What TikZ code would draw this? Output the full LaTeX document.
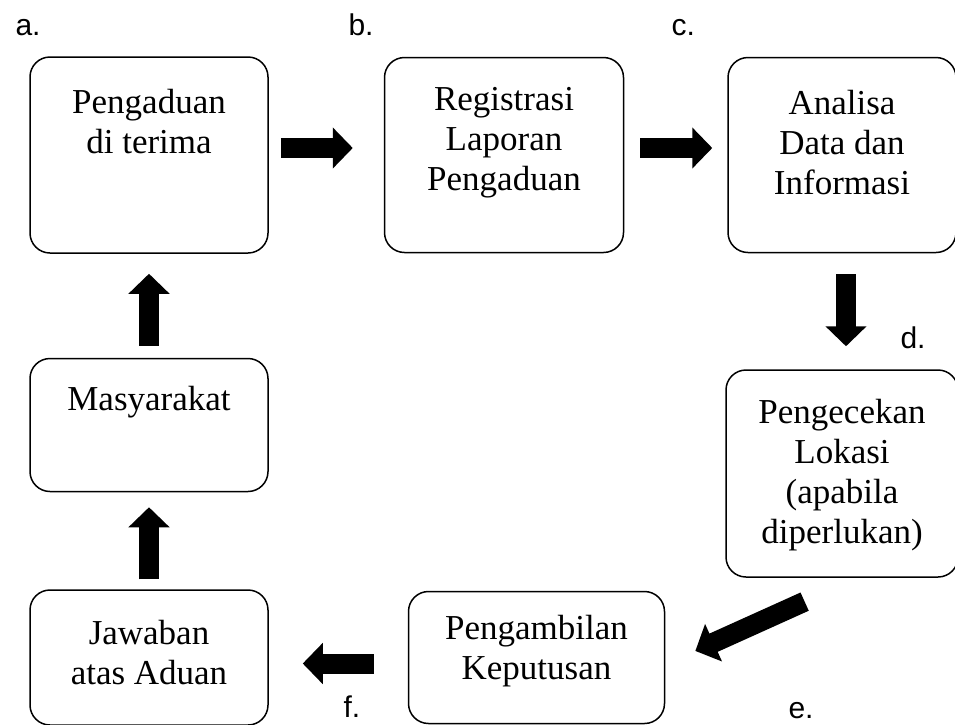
\documentclass[tikz,border=0pt]{standalone}
\usepackage{fontspec}
\setmainfont{Liberation Serif}
\newfontfamily\tagfont{Liberation Sans}
\usetikzlibrary{positioning,arrows.meta}

\begin{document}
\begin{tikzpicture}[x=1pt, y=1pt, node distance=100pt,
	box node/.style={rectangle, rounded corners=20pt, draw, line width=1.5pt, inner sep=0pt},
	text node/.style={align=center, font=\fontsize{35}{40}\selectfont},
	tag node/.style={anchor=base west, font=\tagfont\fontsize{30}{30}\selectfont},
	block arrow/.style={line width=20pt, -{Triangle[length=20pt, width=40pt]}}]
	
	\useasboundingbox (0,0) rectangle (955,-724);
	
	\node[box node, minimum width=238pt, minimum height=196pt,
		label={[text node, yshift=33pt]center:{Pengaduan\\di terima}}] (1) at (149,-155) {};
	\node[box node, minimum width=239pt, minimum height=195pt, right=115pt of 1,
		label={[text node, yshift=12pt]center:{Registrasi\\Laporan\\Pengaduan}}] (2) {};
	\node[box node, minimum width=228pt, minimum height=195pt, right=103pt of 2,
		label={[text node, yshift=12pt]center:{Analisa\\Data dan\\Informasi}}] (3) {};
	\node[box node, minimum width=232pt, minimum height=207pt, below=116pt of 3,
		label={[text node, yshift=-2pt]center:{Pengecekan\\Lokasi\\(apabila\\diperlukan)}}] (4) {};
	\node[box node, minimum width=256pt, minimum height=132pt, below left=13pt and 60pt of 4,
		label={[text node, yshift=6pt]center:{Pengambilan\\Keputusan}}] (5) {};
	\node[box node, minimum width=238pt, minimum height=135pt, left=139pt of 5,
		label={[text node, yshift=5pt]center:{Jawaban\\atas Aduan}}] (6) {};
	\node[box node, minimum width=238pt, minimum height=133pt, above=97pt of 6,
		label={[text node, yshift=23pt]center:{Masyarakat}}] (7) {};
	
	\node[tag node] (a) at (12,-35) {a.};
	\node[tag node] (b) at (345,-35) {b.};
	\node[tag node] (c) at (668,-35) {c.};
	\node[tag node] (d) at (897,-348) {d.};
	\node[tag node] (e) at (785,-718) {e.};
	\node[tag node] (f) at (340,-717) {f.};
	
	\path[block arrow]
	([yshift=7pt]1.east) edge[shorten <=12pt, shorten >=31pt] ([yshift=7pt]2.west)
	([yshift=7pt]2.east) edge[shorten <=16pt, shorten >=15pt] ([yshift=7pt]3.west)
	([xshift=4pt]3.south) edge[shorten <=21pt, shorten >=23pt] ([xshift=4pt]4.north)
	([yshift=-7pt]4.south) edge[shorten <=41pt, shorten >=33pt] ([yshift=-7pt]5.east)
	([yshift=-6pt]5.west) edge[shorten <=34pt, shorten >=34pt] ([yshift=-6pt]6.east)
	(6.north) edge[shorten <=10pt, shorten >=15pt] (7.south)
	(7.north) edge[shorten <=12pt, shorten >=20pt] (1.south);
\end{tikzpicture}
\end{document}
